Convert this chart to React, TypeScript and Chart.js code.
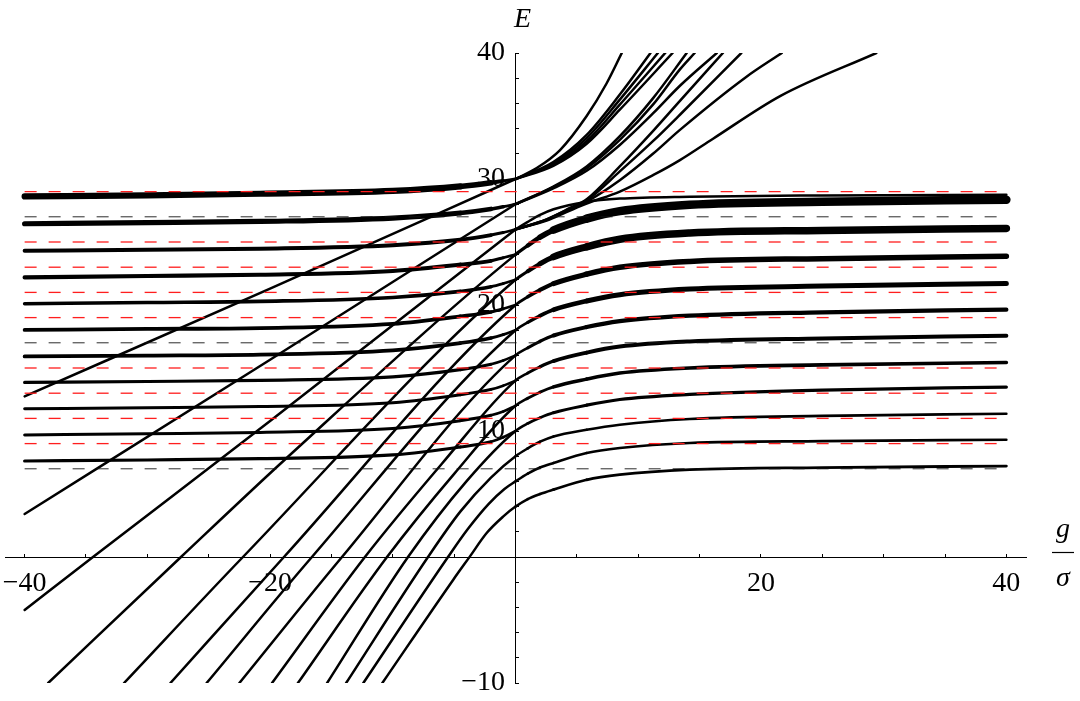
import React, { useEffect, useRef } from 'react';
import { Chart, registerables } from 'chart.js';

Chart.register(...registerables);

type Pt = [number, number];

// ---- axes ----
const X_MIN = -41.6;
const X_MAX = 41.6;
const Y_MIN = -10;
const Y_MAX = 40;
const X_TICK_STEP = 5;
const Y_TICK_STEP = 2;
const X_TICK_LABELS = [-40, -20, 20, 40];
const Y_TICK_LABELS = [-10, 10, 20, 30, 40];

// ---- dashed reference levels ----
const DASH_FROM = -40;
const DASH_TO = 40;
const RED_DASH_LEVELS = [9, 11, 13, 15, 19, 21, 23, 25, 29];
const BLACK_DASH_LEVELS = [7, 17, 27];

// ---- flat levels on the left (g<0), ending at E = 10, 12, ..., 30 at g = 0 ----
const LEFT_X = [-40, -30, -20.8, -10, -4.5, -2, -1, 0];
const LEFT_LEVELS = [
  [7.62, 7.7, 7.8, 8.1, 8.73, 9.15, 9.5, 10],
  [9.68, 9.78, 9.89, 10.2, 10.82, 11.25, 11.55, 12],
  [11.77, 11.85, 11.95, 12.25, 12.88, 13.3, 13.6, 14],
  [13.86, 13.93, 14.02, 14.3, 14.87, 15.3, 15.6, 16],
  [15.92, 15.98, 16.06, 16.4, 16.98, 17.38, 17.65, 18],
  [18.02, 18.1, 18.17, 18.5, 19.1, 19.45, 19.7, 20],
  [20.1, 20.2, 20.29, 20.6, 21.08, 21.45, 21.7, 22],
  [22.19, 22.3, 22.4, 22.7, 23.2, 23.5, 23.75, 24],
  [24.31, 24.38, 24.47, 24.75, 25.18, 25.55, 25.75, 26],
  [26.45, 26.53, 26.63, 26.9, 27.3, 27.62, 27.8, 28],
  [28.62, 28.7, 28.83, 29.05, 29.41, 29.7, 29.85, 30],
];

// ---- flat levels on the right (g>0), starting at E = 4, 6, ..., 24 at g = 0 ----
const RIGHT_X = [0, 1, 2, 3.1, 5.8, 8.5, 14.2, 25, 40];
const RIGHT_LEVELS = [
  [4, 4.6, 5.0, 5.35, 6.13, 6.53, 6.93, 7.1, 7.22],
  [6, 6.62, 7.1, 7.46, 8.25, 8.65, 9.05, 9.2, 9.31],
  [8, 8.62, 9.15, 9.57, 10.1, 10.5, 10.95, 11.2, 11.37],
  [10, 10.6, 11.05, 11.45, 12.05, 12.5, 12.9, 13.25, 13.49],
  [12, 12.6, 13.08, 13.5, 14.12, 14.6, 15.0, 15.25, 15.44],
  [14, 14.6, 15.1, 15.55, 16.22, 16.7, 17.11, 17.35, 17.56],
  [16, 16.6, 17.12, 17.58, 18.25, 18.72, 19.15, 19.42, 19.63],
  [18, 18.62, 19.15, 19.62, 20.32, 20.82, 21.27, 21.5, 21.71],
  [20, 20.65, 21.2, 21.7, 22.45, 23.0, 23.46, 23.68, 23.86],
  [22, 22.68, 23.28, 23.82, 24.62, 25.22, 25.71, 25.92, 26.08],
  [24, 24.72, 25.38, 25.95, 26.85, 27.45, 27.96, 28.2, 28.36],
];
const UPPER_FLAT = [26, 26.6, 27.15, 27.6, 28.2, 28.45, 28.6, 28.7, 28.75];

// ---- diagonal (bound) branches for g<0, ending at E = 4 ... 24 (joined with right levels) ----
const LOW_DIAGONALS: Pt[][] = [
  [[-10.85, -10], [-5.07, -1.8], [-3.71, 0.05], [-2.35, 1.9], [-0.99, 3.22], [0, 4]],
  [[-12.4, -10], [-5.5, 0], [-3.9, 2.2], [-2.2, 4.2], [-0.9, 5.4], [0, 6]],
  [[-13.8, -10], [-7.13, 0], [-4.5, 3.6], [-2, 6.3], [0, 8]],
  [[-15.35, -10], [-8.76, 0], [-4, 6.0], [0, 10]],
  [[-17.73, -10], [-10.47, 0], [-5, 6.6], [0, 12]],
  [[-19.84, -10], [-12.27, 0], [-6, 7.4], [0, 14]],
  [[-22.5, -10], [-14.14, 0], [0, 16]],
  [[-25.17, -10], [-16.59, 0], [0, 18]],
  [[-28.12, -10], [-18.87, 0], [0, 20]],
  [[-31.9, -10], [-22.21, 0], [0, 22]],
  [[-38.08, -10], [-27.26, 0], [-18.65, 7.86], [0, 24]],
];
// ending at E = 26, 28, 30
const HIGH_DIAGONALS: Pt[][] = [
  [[-40, -4.2], [-34.43, 0], [-20, 10.8], [0, 26]],
  [[-40, 3.41], [-20, 15.66], [0, 28]],
  [[-40, 12.75], [-20, 21.3], [0, 30]],
];

// ---- branches rising for g>0 ----
const RISING: Pt[][] = [
  [[0, 30], [1.73, 30.87], [3.63, 32.3], [5.8, 35.0], [7.43, 37.6], [8.66, 40]],
  [[0, 30], [3.08, 31.35], [5.8, 33.5], [8.5, 36.7], [11.0, 40]],
  [[0, 30], [3.08, 31.25], [5.8, 33.25], [8.5, 36.3], [11.6, 40]],
  [[0, 30], [3.08, 31.15], [5.8, 33.0], [8.5, 35.9], [12.2, 40]],
  [[0, 30], [3.08, 31.05], [5.8, 32.8], [8.5, 35.5], [12.8, 40]],
  [[0, 28], [3.08, 29.4], [5.8, 31.0], [8.5, 33.4], [11.2, 36.4], [13.95, 40]],
  [[0, 28], [3.08, 29.35], [5.8, 30.85], [8.5, 33.1], [11.2, 35.9], [13.4, 38.7], [14.6, 40]],
  [[0, 28], [3.08, 29.25], [5.8, 30.65], [8.5, 32.7], [11.2, 35.2], [13.4, 37.4], [16.4, 40]],
  [[0, 26], [2.54, 26.8], [4.44, 27.7], [5.8, 28.4], [8.5, 31.0], [11.2, 33.8], [13.4, 36.2], [16.9, 40]],
  [[0, 26], [2.54, 26.8], [4.44, 27.65], [5.8, 28.3], [8.5, 30.6], [11.2, 33.0], [13.4, 35.1], [18.4, 40]],
  [[0, 26], [2.54, 26.75], [4.44, 27.6], [5.8, 28.2], [8.5, 29.9], [11.2, 32.0], [13.4, 33.9], [18.8, 38.1], [21.7, 40]],
  [[0, 26], [2.54, 26.7], [4.44, 27.5], [5.8, 28.05], [8.5, 29.0], [11.2, 30.3], [13.4, 31.5], [16.1, 33.2], [21.6, 36.6], [29.4, 40]],
];

// ---- styles (kept apart from data) ----
const CURVE_WIDTH = 2.5;
const LEFT_WIDTHS = [3.2, 3.0, 3.0, 3.2, 3.8, 3.8, 3.6, 4.2, 4.0, 5.2, 6.2];
const RIGHT_WIDTHS = [2.8, 2.6, 2.6, 3.2, 3.6, 4.0, 4.2, 5.0, 5.5, 7.5, 8.5];
const SERIF = '"Liberation Serif", "Times New Roman", serif';

const fmt = (v: number) => (v < 0 ? '\u2212' + Math.abs(v) : String(v));
const xy = (pts: Pt[]) => pts.map(([x, y]) => ({ x, y }));
const rowXY = (xs: number[], ys: number[]) => xs.map((x, i) => ({ x, y: ys[i] }));

function curve(data: { x: number; y: number }[], widthAt?: (xm: number) => number) {
  const ds: any = {
    data,
    borderColor: '#000',
    borderWidth: CURVE_WIDTH,
    pointRadius: 0,
    pointHoverRadius: 0,
    fill: false,
    cubicInterpolationMode: 'monotone',
    borderCapStyle: 'round',
    borderJoinStyle: 'round',
    clip: 0,
    order: 1,
  };
  if (widthAt) {
    ds.segment = {
      borderWidth: (ctx: any) => widthAt((ctx.p0.parsed.x + ctx.p1.parsed.x) / 2),
    };
  }
  return ds;
}

function dashed(level: number, color: string, width: number) {
  return {
    data: [{ x: DASH_FROM, y: level }, { x: DASH_TO, y: level }],
    borderColor: color,
    borderWidth: width,
    borderDash: [12, 12],
    pointRadius: 0,
    pointHoverRadius: 0,
    fill: false,
    clip: 0,
    order: 0,
  };
}

const labelsPlugin = {
  id: 'axisTitles',
  afterDraw(chart: any) {
    const { ctx, chartArea, scales } = chart;
    const x0 = scales.x.getPixelForValue(0);
    const y0 = scales.y.getPixelForValue(0);
    ctx.save();
    ctx.fillStyle = '#000';
    ctx.strokeStyle = '#000';
    ctx.font = `italic 28px ${SERIF}`;
    ctx.textAlign = 'center';
    ctx.textBaseline = 'alphabetic';
    ctx.fillText('E', x0 + 7, chartArea.top - 26);
    const gx = chartArea.right + 37;
    ctx.fillText('g', gx, y0 - 20);
    ctx.fillText('\u03c3', gx, y0 + 29);
    ctx.lineWidth = 1.2;
    ctx.beginPath();
    ctx.moveTo(gx - 11, y0 - 4.5);
    ctx.lineTo(gx + 11, y0 - 4.5);
    ctx.stroke();
    ctx.restore();
  },
};

const noSpace = (s: any, horizontal: boolean) => {
  if (horizontal) s.height = 0;
  else s.width = 0;
  s.paddingLeft = 0;
  s.paddingRight = 0;
  s.paddingTop = 0;
  s.paddingBottom = 0;
};

export default function App() {
  const ref = useRef<HTMLCanvasElement | null>(null);

  useEffect(() => {
    if (!ref.current) return;
    const datasets: any[] = [];

    LOW_DIAGONALS.forEach((diag, i) => {
      const right = rowXY(RIGHT_X, RIGHT_LEVELS[i]).slice(1);
      const W = RIGHT_WIDTHS[i];
      datasets.push(
        curve([...xy(diag), ...right], (xm) =>
          xm <= 0 ? CURVE_WIDTH : CURVE_WIDTH + (W - CURVE_WIDTH) * Math.min(1, xm / 5)
        )
      );
    });
    LEFT_LEVELS.forEach((ys, i) => {
      const W = LEFT_WIDTHS[i];
      datasets.push(
        curve(rowXY(LEFT_X, ys), (xm) =>
          CURVE_WIDTH + (W - CURVE_WIDTH) * Math.min(1, -xm / 4)
        )
      );
    });
    datasets.push(curve(rowXY(RIGHT_X, UPPER_FLAT)));
    HIGH_DIAGONALS.forEach((d) => datasets.push(curve(xy(d))));
    RISING.forEach((d) => datasets.push(curve(xy(d))));

    RED_DASH_LEVELS.forEach((l) => datasets.push(dashed(l, 'rgb(255,30,30)', 1.3)));
    BLACK_DASH_LEVELS.forEach((l) => datasets.push(dashed(l, 'rgb(20,20,20)', 0.9)));

    const tickFont = { family: SERIF, size: 28 };
    const tickColor = (c: any) => (c.tick && c.tick.value === 0 ? 'rgba(0,0,0,0)' : '#000');
    const chart = new Chart(ref.current, {
      type: 'line',
      data: { datasets },
      plugins: [labelsPlugin],
      options: {
        animation: false,
        responsive: true,
        maintainAspectRatio: false,
        events: [],
        layout: { padding: { left: 5, right: 54, top: 53, bottom: 18 } },
        plugins: { legend: { display: false }, tooltip: { enabled: false } },
        scales: {
          x: {
            type: 'linear',
            min: X_MIN,
            max: X_MAX,
            position: { y: 0 } as any,
            afterFit: (s: any) => noSpace(s, true),
            border: { display: true, color: '#000', width: 1 },
            grid: {
              display: true,
              drawOnChartArea: false,
              drawTicks: true,
              tickLength: -4,
              tickWidth: 1,
              tickColor,
            },
            ticks: {
              stepSize: X_TICK_STEP,
              includeBounds: false,
              autoSkip: false,
              maxRotation: 0,
              minRotation: 0,
              padding: 14,
              color: '#000',
              font: tickFont,
              callback: (v: any) => (X_TICK_LABELS.includes(Number(v)) ? fmt(Number(v)) : ''),
            },
          },
          y: {
            type: 'linear',
            min: Y_MIN,
            max: Y_MAX,
            position: 'center',
            afterFit: (s: any) => noSpace(s, false),
            border: { display: true, color: '#000', width: 1 },
            grid: {
              display: true,
              drawOnChartArea: false,
              drawTicks: true,
              tickLength: -4,
              tickWidth: 1,
              tickColor,
            },
            ticks: {
              stepSize: Y_TICK_STEP,
              includeBounds: false,
              autoSkip: false,
              padding: 14.5,
              color: '#000',
              font: tickFont,
              callback: (v: any) => (Y_TICK_LABELS.includes(Number(v)) ? fmt(Number(v)) : ''),
            },
          },
        },
      } as any,
    });
    return () => chart.destroy();
  }, []);

  return (
    <div style={{ position: 'fixed', left: 0, top: 0, width: 1080, height: 701, background: '#fff' }}>
      <canvas ref={ref} />
    </div>
  );
}
